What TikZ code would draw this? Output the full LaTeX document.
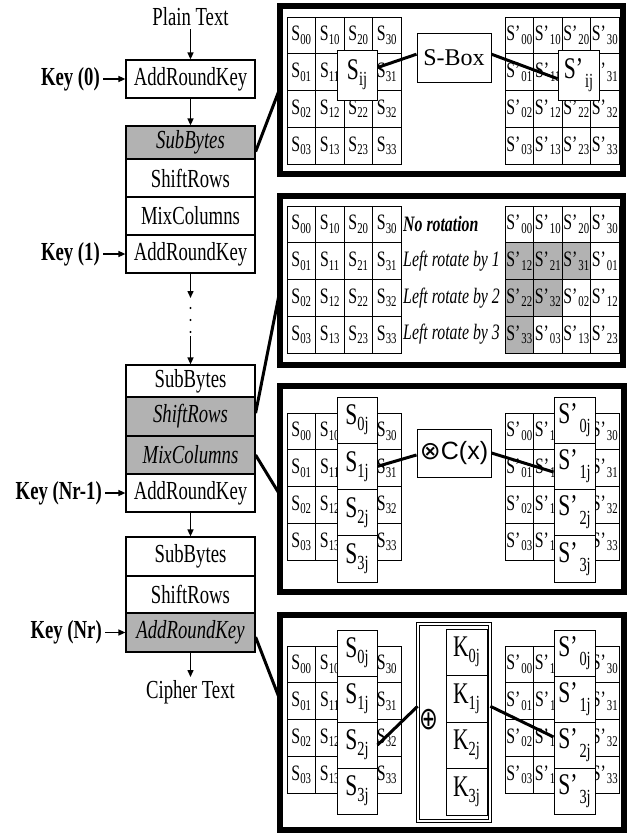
\documentclass[tikz,border=0pt]{standalone}
\usepackage{fontspec}
\setmainfont{Liberation Serif}
\newfontfamily\cnd[FakeStretch=0.72]{Liberation Serif}
\newfontfamily\sansf{Liberation Sans}
\newfontfamily\djv{DejaVu Sans}
\usetikzlibrary{arrows.meta}

\newcommand{\Sc}[2]{{\cnd\fontsize{22}{22}\selectfont #1\raisebox{-3.5pt}{\fontsize{15}{15}\selectfont #2}}}
\newcommand{\Sb}[2]{{\cnd\fontsize{30}{30}\selectfont #1\raisebox{-6pt}{\fontsize{20}{20}\selectfont #2}}}
\newcommand{\Sp}[1]{{\cnd\fontsize{30}{30}\selectfont S’\hspace{2pt}\raisebox{-9pt}{\fontsize{20}{20}\selectfont #1}}}

% #1 name, #2 x0, #3 y0, #4 prime, #5 hidden column, #6 hidden row (9 = all rows)
\newcommand{\drawgrid}[6]{%
  \foreach \cc in {0,...,3}{\foreach \rr in {0,...,3}{
    \pgfmathtruncatemacro{\hid}{and(\cc==#5, or(\rr==#6, #6==9))}
    \node[cell] (#1-\cc\rr) at ({#2+(\cc+0.5)*28.5},{#3+(\rr+0.5)*36.75})
      {\ifnum\hid=1\relax\else\Sc{S#4}{\cc\rr}\fi};
  }}}
\newcommand{\colS}[4]{%
  \foreach \ii in {0,...,3}{
    \node[bigbox, minimum width=40pt, minimum height=#4pt] (#1\ii) at (#2,{#3+(\ii+0.5)*#4}) {\Sb{S}{\ii j}};
  }}
\newcommand{\colSp}[4]{%
  \foreach \ii in {0,...,3}{
    \node[bigbox, minimum width=41pt, minimum height=#4pt] (#1\ii) at (#2,{#3+(\ii+0.5)*#4}) {\Sp{\ii j}};
  }}

\tikzset{
 stage/.style={draw, line width=1.2pt, minimum width=129pt, inner sep=0pt, font=\cnd\fontsize{26}{26}\selectfont},
 hl/.style={stage, fill=black!30, font=\cnd\itshape\fontsize{26}{26}\selectfont},
 keyl/.style={anchor=east, inner sep=3pt, font=\cnd\bfseries\fontsize{26}{26}\selectfont},
 plain/.style={inner sep=3pt, font=\cnd\fontsize{26}{26}\selectfont},
 arr/.style={-{Triangle[length=7pt,width=6pt]}, line width=1.4pt},
 cell/.style={draw, line width=1pt, minimum width=28.5pt, minimum height=36.75pt, inner sep=0pt},
 bigbox/.style={draw, fill=white, line width=1pt, inner sep=0pt},
 link/.style={line width=3pt},
 panel/.style={line width=6.5pt},
 rottext/.style={anchor=west, inner sep=0pt, font=\cnd\itshape\fontsize{22}{22}\selectfont},
}

\begin{document}
\begin{tikzpicture}[x=1pt,y=-1pt]
\useasboundingbox (0,0) rectangle (633,833);
\fill[white] (0,0) rectangle (633,833);

% ---------------- left column ----------------
\node[plain] (pt) at (190.5,17) {Plain Text};
\node[stage, minimum height=38pt] (ark0) at (190.5,79) {AddRoundKey};
\node[keyl] (k0) at (103,79) {Key (0)};

\node[hl, minimum height=33pt] (sb1) at (190.5,142.5) {SubBytes};
\node[stage, minimum height=38pt] (sr1) at (190.5,178) {ShiftRows};
\node[stage, minimum height=38pt] (mc1) at (190.5,216) {MixColumns};
\node[stage, minimum height=38pt] (ark1) at (190.5,254) {AddRoundKey};
\node[keyl] (k1) at (103,254) {Key (1)};

\coordinate (d1) at (190.5,298);
\coordinate (d2) at (190.5,336);
\fill (190.5,308) circle (1.1pt) (190.5,320) circle (1.1pt) (190.5,332) circle (1.1pt);

\node[stage, minimum height=32pt] (sb2) at (190.5,381) {SubBytes};
\node[hl, minimum height=39pt] (sr2) at (190.5,416.5) {ShiftRows};
\node[hl, minimum height=38pt] (mc2) at (190.5,455) {MixColumns};
\node[stage, minimum height=38pt] (ark2) at (190.5,493) {AddRoundKey};
\node[keyl] (k2) at (105,493) {Key (Nr-1)};

\node[stage, minimum height=39pt] (sb3) at (190.5,556.5) {SubBytes};
\node[stage, minimum height=37pt] (sr3) at (190.5,594.5) {ShiftRows};
\node[hl, minimum height=39pt] (ark3) at (190.5,632.5) {AddRoundKey};
\node[keyl] (k3) at (105,632.5) {Key (Nr)};
\node[plain] (ct) at (190.5,692) {Cipher Text};

\draw[arr] (pt) -- (ark0);
\draw[arr] (ark0) -- (sb1);
\draw[arr] (ark1) -- (d1);
\draw[arr] (d2) -- (sb2);
\draw[arr] (ark2) -- (sb3);
\draw[arr] (ark3) -- (ct);
\draw[arr] (k0) -- (ark0);
\draw[arr] (k1) -- (ark1);
\draw[arr] (k2) -- (ark2);
\draw[arr] (k3) -- (ark3);

% ---------------- panel 1 : SubBytes ----------------
\drawgrid{a}{287}{17}{}{2}{1}
\drawgrid{b}{505}{17}{’\hspace{1pt}}{2}{1}
\node[bigbox, minimum width=40pt, minimum height=50pt] (sij) at (357,75) {\Sb{S}{ij}};
\node[bigbox, minimum width=74pt, minimum height=49pt, font=\fontsize{24}{24}\selectfont] (sbox) at (454,57.5) {S-Box};
\node[bigbox, minimum width=41pt, minimum height=50pt] (spij) at (578.5,75) {\Sp{ij}};
\draw[link] (sij.20) -- (sbox.175);
\draw[link] (sbox.5) -- (spij.190);

% ---------------- panel 2 : ShiftRows ----------------
\drawgrid{c}{287}{206}{}{7}{7}
\foreach \cc/\rr/\lab/\f in {0/0/00/white,1/0/10/white,2/0/20/white,3/0/30/white,
  0/1/12/black!30,1/1/21/black!30,2/1/31/black!30,3/1/01/white,
  0/2/22/black!30,1/2/32/black!30,2/2/02/white,3/2/12/white,
  0/3/33/black!30,1/3/03/white,2/3/13/white,3/3/23/white}{
  \node[cell, fill=\f] (d-\cc\rr) at ({505+(\cc+0.5)*28.5},{206+(\rr+0.5)*36.75}) {\Sc{S’\hspace{1pt}}{\lab}};
}
\node[rottext, font=\cnd\bfseries\itshape\fontsize{22}{22}\selectfont] (r0) at (403,224.4) {No rotation};
\node[rottext] (r1) at (403,261.1) {Left rotate by 1};
\node[rottext] (r2) at (403,297.9) {Left rotate by 2};
\node[rottext] (r3) at (403,334.6) {Left rotate by 3};

% ---------------- panel 3 : MixColumns ----------------
\drawgrid{e}{287}{413}{}{2}{9}
\drawgrid{f}{505}{413}{’\hspace{1pt}}{2}{9}
\colS{ms}{357}{397}{46.25}
\colSp{mr}{574.5}{397}{46.25}
\node[bigbox, minimum width=74pt, minimum height=48pt] (cx) at (454,453)
  {{\djv\fontsize{25}{25}\selectfont ⊗}{\sansf\fontsize{25}{25}\selectfont C(x)}};
\draw[link] (ms1.east) -- (cx.183);
\draw[link] (cx.0) -- (mr1.195);

% ---------------- panel 4 : AddRoundKey ----------------
\drawgrid{g}{287}{646}{}{2}{9}
\drawgrid{h}{505}{646}{’\hspace{1pt}}{2}{9}
\colS{as}{357}{630}{46}
\colSp{ar}{574.5}{630}{46}
\node[bigbox, double, double distance=1.5pt, line width=0.8pt, minimum width=72pt, minimum height=197pt] (kb) at (454,722.5) {};
\foreach \ii in {0,...,3}{
  \node[bigbox, minimum width=41pt, minimum height=46.5pt] (k\ii j) at (466.5,{629+(\ii+0.5)*46.5}) {\Sb{K}{\ii j}};
}
\node[inner sep=0pt, font=\djv\fontsize{30}{30}\selectfont] (xor) at (429,720) {\scalebox{0.75}[1.05]{⊕}};
\draw[link] (as2.east) -- (kb.156);
\draw[link] (kb.24) -- (ar2.159);

% ---------------- links from the left column ----------------
\coordinate (p1in) at (280,88);
\coordinate (p2in) at (280,290);
\coordinate (p3in) at (280,495);
\coordinate (p4in) at (280,700);
\draw[link] (sb1.-8) -- (p1in);
\draw[link] (sr2.3) -- (p2in);
\draw[link] (mc2.east) -- (p3in);
\draw[link] (ark3.-4) -- (p4in);

% ---------------- panel frames ----------------
\draw[panel] (280,6) rectangle (623,174);
\draw[panel] (280,196) rectangle (623,365);
\draw[panel] (280,386) rectangle (624,592);
\draw[panel] (280,615) rectangle (624,830);
\end{tikzpicture}
\end{document}
